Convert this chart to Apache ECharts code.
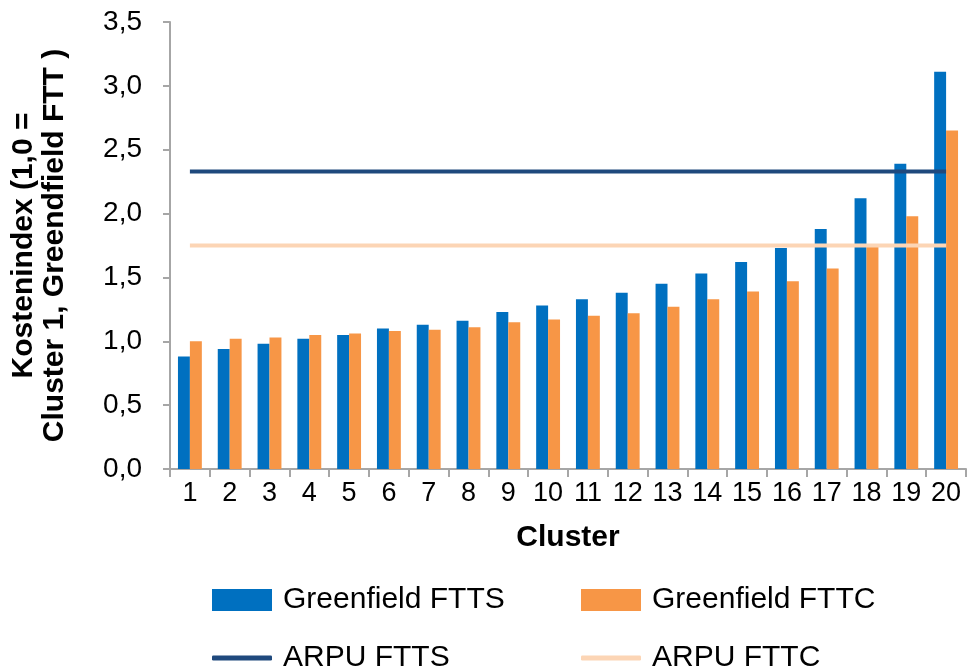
<!DOCTYPE html>
<html>
<head>
<meta charset="utf-8">
<script src="https://cdn.jsdelivr.net/npm/echarts@6/dist/echarts.min.js"></script>
<style>
  html, body { margin: 0; padding: 0; background: #fff; }
  #chart { width: 971px; height: 671px; }
</style>
</head>
<body>
<div id="chart"></div>
<script>
// cluster numbers on the x axis
var clusters = ["1","2","3","4","5","6","7","8","9","10","11","12","13","14","15","16","17","18","19","20"];

// cost index per cluster (1,0 = cluster 1, greenfield)
var ftts = [0.88, 0.94, 0.98, 1.02, 1.05, 1.10, 1.13, 1.16, 1.23, 1.28, 1.33, 1.38, 1.45, 1.53, 1.62, 1.73, 1.88, 2.12, 2.39, 3.11];
var fttc = [1.00, 1.02, 1.03, 1.05, 1.06, 1.08, 1.09, 1.11, 1.15, 1.17, 1.20, 1.22, 1.27, 1.33, 1.39, 1.47, 1.57, 1.74, 1.98, 2.65];

// ARPU levels (flat over all clusters)
var arpuFtts = [2.33, 2.33, 2.33, 2.33, 2.33, 2.33, 2.33, 2.33, 2.33, 2.33, 2.33, 2.33, 2.33, 2.33, 2.33, 2.33, 2.33, 2.33, 2.33, 2.33];
var arpuFttc = [1.75, 1.75, 1.75, 1.75, 1.75, 1.75, 1.75, 1.75, 1.75, 1.75, 1.75, 1.75, 1.75, 1.75, 1.75, 1.75, 1.75, 1.75, 1.75, 1.75];

var FONT = "Liberation Sans, Arial, sans-serif";

function legendAt(name, left, top, isLine) {
  return {
    data: [name],
    left: left,
    top: top,
    padding: 0,
    orient: "horizontal",
    icon: isLine ? "roundRect" : "rect",
    itemWidth: 60,
    itemHeight: isLine ? 5 : 22,
    itemGap: 0,
    textStyle: { fontFamily: FONT, fontSize: 30, color: "#000", padding: [0, 0, 0, 6] },
    selectedMode: false
  };
}

var chart = echarts.init(document.getElementById("chart"));
chart.setOption({
  animation: false,
  textStyle: { fontFamily: FONT },
  grid: { left: 170, right: 5, top: 22, bottom: 202 },
  legend: [
    legendAt("Greenfield FTTS", 212, 585, false),
    legendAt("Greenfield FTTC", 581, 585, false),
    legendAt("ARPU FTTS", 212, 643, true),
    legendAt("ARPU FTTC", 581, 643, true)
  ],
  xAxis: {
    type: "category",
    data: clusters,
    name: "Cluster",
    nameLocation: "middle",
    nameGap: 54,
    nameTextStyle: { fontFamily: FONT, fontSize: 30, fontWeight: "bold", color: "#000" },
    axisLine: { lineStyle: { color: "#A6A6A6", width: 2 } },
    axisTick: { show: true, length: 8, lineStyle: { color: "#A6A6A6", width: 2 } },
    axisLabel: { fontFamily: FONT, fontSize: 27, color: "#000", margin: 11, interval: 0 }
  },
  yAxis: {
    type: "value",
    min: 0,
    max: 3.5,
    interval: 0.5,
    name: "Kostenindex (1,0 =\nCluster 1, Greendfield FTT )",
    nameLocation: "middle",
    nameGap: 100,
    nameTextStyle: { fontFamily: FONT, fontSize: 30, fontWeight: "bold", color: "#000", lineHeight: 31 },
    splitLine: { show: false },
    axisLine: { show: true, lineStyle: { color: "#A6A6A6", width: 2 } },
    axisTick: { show: true, length: 7, lineStyle: { color: "#A6A6A6", width: 2 } },
    axisLabel: {
      fontFamily: FONT, fontSize: 28, color: "#000", margin: 28,
      formatter: function (v) { return v.toFixed(1).replace(".", ","); }
    }
  },
  series: [
    {
      name: "Greenfield FTTS",
      type: "bar",
      data: ftts,
      barGap: "0%",
      barCategoryGap: "40%",
      itemStyle: { color: "#0070C0" }
    },
    {
      name: "Greenfield FTTC",
      type: "bar",
      data: fttc,
      itemStyle: { color: "#F79646" }
    },
    {
      name: "ARPU FTTS",
      type: "line",
      data: arpuFtts,
      symbol: "none",
      z: 5,
      lineStyle: { color: "#1F497D", width: 4 },
      itemStyle: { color: "#1F497D" }
    },
    {
      name: "ARPU FTTC",
      type: "line",
      data: arpuFttc,
      symbol: "none",
      z: 5,
      lineStyle: { color: "#FCD5B5", width: 4 },
      itemStyle: { color: "#FCD5B5" }
    }
  ]
});
</script>
</body>
</html>
